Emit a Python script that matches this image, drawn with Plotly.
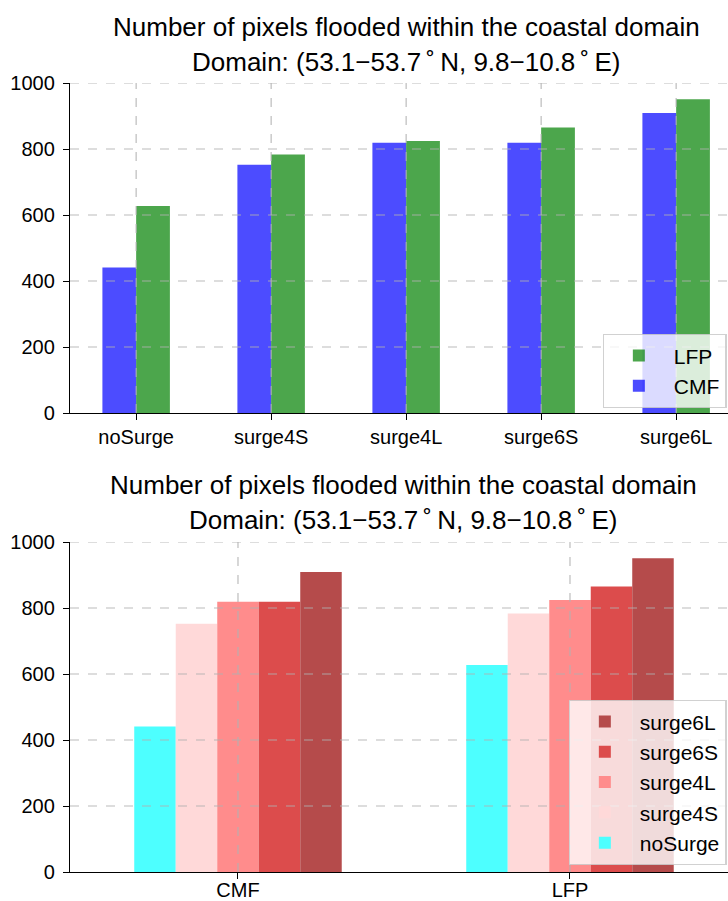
import plotly.graph_objects as go

W, H = 728, 901

scenarios = ["noSurge", "surge4S", "surge4L", "surge6S", "surge6L"]
models = ["CMF", "LFP"]
cmf_vals = [441, 752, 819, 819, 909]
lfp_vals = [627, 783, 824, 865, 951]
yticks = [0, 200, 400, 600, 800, 1000]

model_colors = {"CMF": "rgba(0,0,255,0.7)", "LFP": "rgba(0,128,0,0.7)"}
scen_colors = ["rgb(77,255,255)", "rgb(255,217,217)", "rgb(255,140,140)",
               "rgb(220,76,76)", "rgb(181,75,75)"]

title1 = "Number of pixels flooded within the coastal domain"
title2 = "Domain: (53.1\u221253.7\u2009\u02da\u2009N, 9.8\u221210.8\u2009\u02da\u2009E)"

FONT = "Liberation Sans, Arial, sans-serif"

def px_y(p):
    return 1 - p / H

fig = go.Figure()

# top subplot
xs_top = list(range(len(scenarios)))
for i, (name, vals) in enumerate([("CMF", cmf_vals), ("LFP", lfp_vals)]):
    fig.add_trace(go.Bar(
        x=xs_top, y=vals, name=name, width=0.25, offset=-0.25 + 0.25 * i,
        marker=dict(color=model_colors[name], line=dict(width=0)),
        xaxis="x", yaxis="y", legend="legend",
    ))

# bottom subplot
xs_bot = list(range(len(models)))
for j, s in enumerate(scenarios):
    fig.add_trace(go.Bar(
        x=xs_bot, y=[cmf_vals[j], lfp_vals[j]], name=s, width=0.125,
        offset=-0.3125 + 0.125 * j,
        marker=dict(color=scen_colors[j], line=dict(width=0)),
        xaxis="x2", yaxis="y2", legend="legend2",
    ))

x_left = 70 / W
top_dom = [px_y(413), px_y(83)]
bot_dom = [px_y(872), px_y(542)]

axis_common = dict(
    showline=True, linecolor="black", linewidth=1.3, ticks="outside",
    ticklen=6, tickwidth=1.3, tickcolor="black", showgrid=False, zeroline=False,
    tickfont=dict(family=FONT, size=20, color="black"), automargin=False,
)

legend_common = dict(
    x=0.998, xanchor="right", yanchor="top", traceorder="reversed",
    bgcolor="rgba(255,255,255,0.8)", bordercolor="rgba(204,204,204,0.9)",
    borderwidth=1.3, font=dict(family=FONT, size=21, color="black"),
    itemwidth=60,
)

fig.update_layout(
    width=W, height=H, margin=dict(l=0, r=0, t=0, b=0),
    paper_bgcolor="white", plot_bgcolor="white", barmode="overlay",
    xaxis=dict(domain=[x_left, 1], anchor="y", range=[-0.49, -0.49 + 658 / 135],
               tickvals=xs_top, ticktext=scenarios, **axis_common),
    yaxis=dict(domain=top_dom, anchor="x", range=[0, 1000], tickvals=yticks,
               ticklabelstandoff=4, **axis_common),
    xaxis2=dict(domain=[x_left, 1], anchor="y2", range=[-0.506, -0.506 + 658 / 332],
                tickvals=xs_bot, ticktext=models, ticklabelstandoff=-6,
                **axis_common),
    yaxis2=dict(domain=bot_dom, anchor="x2", range=[0, 1000], tickvals=yticks,
                ticklabelstandoff=4, **axis_common),
    legend=dict(y=px_y(334), **legend_common),
    legend2=dict(y=px_y(700), **legend_common),
    showlegend=True,
)

# gridlines drawn above bars (as in the reference)
grid_style = dict(color="rgba(176,176,176,0.85)", width=1.2, dash="dash")
shapes = []
for xa, ya, xs in [("x", "y", xs_top), ("x2", "y2", xs_bot)]:
    for v in yticks[1:]:
        shapes.append(dict(type="line", xref=f"{xa} domain", yref=ya,
                           x0=0, x1=1, y0=v, y1=v, line=grid_style, layer="above"))
    for v in xs:
        shapes.append(dict(type="line", xref=xa, yref=f"{ya} domain",
                           x0=v, x1=v, y0=0, y1=1, line=grid_style, layer="above"))
fig.update_layout(shapes=shapes)

# titles
anns = []
for cx, y1, y2 in [(406, 27, 62), (403, 485, 520)]:
    for txt, yy in [(title1, y1), (title2, y2)]:
        anns.append(dict(text=txt, x=cx / W, y=px_y(yy), xref="paper", yref="paper",
                         showarrow=False, xanchor="center", yanchor="middle",
                         font=dict(family=FONT, size=26, color="black")))
fig.update_layout(annotations=anns)

fig.write_html("out.html")
